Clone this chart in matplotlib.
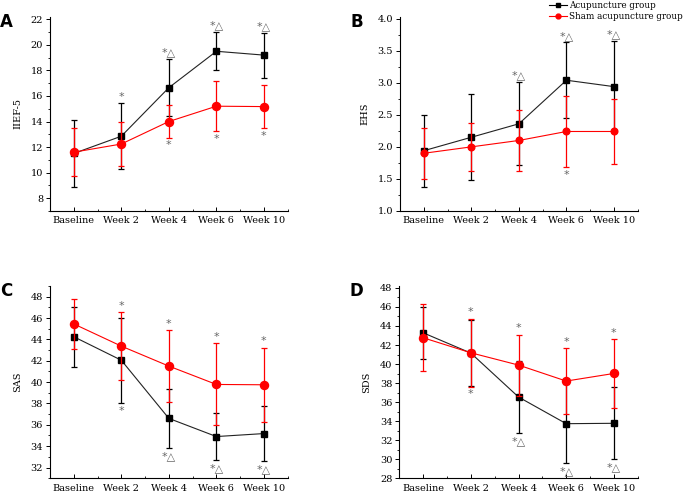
import numpy as np
import matplotlib
matplotlib.use("Agg")
from matplotlib import pyplot as plt
from matplotlib.ticker import MultipleLocator, FormatStrFormatter
from matplotlib.lines import Line2D

plt.rcParams['font.family'] = ['DejaVu Serif', 'DejaVu Sans']

weeks = ["Baseline", "Week 2", "Week 4", "Week 6", "Week 10"]

# IIEF-5
iief_acu = [11.5, 12.85, 16.65, 19.5, 19.2]
iief_acu_sd = [2.65, 2.6, 2.25, 1.5, 1.77]
iief_sham = [11.6, 12.24, 14.0, 15.2, 15.17]
iief_sham_sd = [1.86, 1.72, 1.26, 1.98, 1.68]

# EHS
ehs_acu = [1.94, 2.15, 2.36, 3.04, 2.94]
ehs_acu_sd = [0.56, 0.67, 0.65, 0.59, 0.71]
ehs_sham = [1.90, 2.00, 2.10, 2.24, 2.24]
ehs_sham_sd = [0.40, 0.375, 0.48, 0.56, 0.50]

# SAS
sas_acu = [44.25, 42.05, 36.6, 34.9, 35.18]
sas_acu_sd = [2.8, 4.0, 2.8, 2.2, 2.57]
sas_sham = [45.45, 43.37, 41.5, 39.78, 39.75]
sas_sham_sd = [2.35, 3.16, 3.37, 3.84, 3.46]

# SDS
sds_acu = [43.28, 41.15, 36.53, 33.73, 33.77]
sds_acu_sd = [2.7, 3.5, 3.83, 4.15, 3.78]
sds_sham = [42.76, 41.18, 39.89, 38.21, 39.01]
sds_sham_sd = [3.5, 3.6, 3.2, 3.45, 3.58]

# significance marks
iief_acu_marks = ["", "*", "*\u25b3", "*\u25b3", "*\u25b3"]
iief_sham_marks = ["", "", "*", "*", "*"]
ehs_acu_marks = ["", "", "*\u25b3", "*\u25b3", "*\u25b3"]
ehs_sham_marks = ["", "", "", "*", ""]
sas_acu_marks = ["", "*", "*\u25b3", "*\u25b3", "*\u25b3"]
sas_sham_marks = ["", "*", "*", "*", "*"]
sds_acu_marks = ["", "*", "*\u25b3", "*\u25b3", "*\u25b3"]
sds_sham_marks = ["", "*", "*", "*", "*"]

acu_color = "black"
sham_color = "#ff0000"
mark_color = "#666666"


def put_marks(ax, x, means, sds, marks, above):
    for i, m in enumerate(marks):
        if not m:
            continue
        if above:
            ax.annotate(m, xy=(x[i], means[i] + sds[i]), xytext=(0, 1),
                        textcoords="offset points", ha="center", va="bottom",
                        fontsize=8, color=mark_color, family="DejaVu Sans")
        else:
            ax.annotate(m, xy=(x[i], means[i] - sds[i]), xytext=(0, -2),
                        textcoords="offset points", ha="center", va="top",
                        fontsize=8, color=mark_color, family="DejaVu Sans")


def panel(fig, rect, letter, ylabel, acu, acu_sd, sham, sham_sd,
          acu_marks, sham_marks, acu_above, ylim, major, minor, fmt, msize):
    ax = fig.add_axes(rect)
    x = np.arange(len(weeks))
    ax.errorbar(x, acu, yerr=acu_sd, color="#222222", ecolor=acu_color,
                marker="s", markersize=msize, markerfacecolor=acu_color,
                markeredgecolor=acu_color, lw=0.8, elinewidth=0.9,
                capsize=2.5, capthick=0.9, zorder=2)
    ax.errorbar(x, sham, yerr=sham_sd, color=sham_color, ecolor=sham_color,
                marker="o", markersize=msize + 0.8, markerfacecolor=sham_color,
                markeredgecolor=sham_color, lw=0.8, elinewidth=0.9,
                capsize=2.5, capthick=0.9, zorder=3)
    put_marks(ax, x, acu, acu_sd, acu_marks, acu_above)
    put_marks(ax, x, sham, sham_sd, sham_marks, not acu_above)

    ax.set_xlim(-0.5, 4.5)
    ax.set_ylim(*ylim)
    ax.set_xticks(x)
    ax.set_xticklabels(weeks, fontsize=7)
    ax.xaxis.set_minor_locator(MultipleLocator(0.5))
    ax.yaxis.set_major_locator(MultipleLocator(major))
    ax.yaxis.set_minor_locator(MultipleLocator(minor))
    ax.yaxis.set_major_formatter(FormatStrFormatter(fmt))
    ax.tick_params(axis="y", which="major", direction="out", length=3,
                   width=0.7, labelsize=7, pad=2)
    ax.tick_params(axis="y", which="minor", direction="out", length=1.5,
                   width=0.6)
    ax.tick_params(axis="x", which="major", direction="in", length=3,
                   width=0.7, pad=4)
    ax.tick_params(axis="x", which="minor", direction="in", length=1.5,
                   width=0.6)
    for s in ["top", "right"]:
        ax.spines[s].set_visible(False)
    for s in ["left", "bottom"]:
        ax.spines[s].set_linewidth(0.8)
    ax.set_ylabel(ylabel, fontsize=7, labelpad=6)
    fig.text(rect[0] - 0.073, rect[1] + rect[3] - 0.01, letter,
             fontsize=12, fontweight="bold", family="DejaVu Sans",
             ha="left", va="center")
    return ax


fig = plt.figure(figsize=(6.85, 4.94), dpi=100)

panel(fig, [0.073, 0.573, 0.347, 0.393], "A", "IIEF-5",
      iief_acu, iief_acu_sd, iief_sham, iief_sham_sd,
      iief_acu_marks, iief_sham_marks, True, (7, 22.2), 2, 1, "%d", 5)
panel(fig, [0.584, 0.573, 0.347, 0.393], "B", "EHS",
      ehs_acu, ehs_acu_sd, ehs_sham, ehs_sham_sd,
      ehs_acu_marks, ehs_sham_marks, True, (1.0, 4.03), 0.5, 0.25, "%.1f", 4)
panel(fig, [0.073, 0.032, 0.347, 0.389], "C", "SAS",
      sas_acu, sas_acu_sd, sas_sham, sas_sham_sd,
      sas_acu_marks, sas_sham_marks, False, (31, 49), 2, 1, "%d", 5)
panel(fig, [0.583, 0.032, 0.348, 0.389], "D", "SDS",
      sds_acu, sds_acu_sd, sds_sham, sds_sham_sd,
      sds_acu_marks, sds_sham_marks, False, (28, 48.2), 2, 1, "%d", 5)

handles = [
    Line2D([], [], color=acu_color, marker="s", markersize=3, lw=0.8),
    Line2D([], [], color=sham_color, marker="o", markersize=3.5, lw=0.8),
]
fig.legend(handles, ["Acupuncture group", "Sham acupuncture group"],
           loc="upper left", bbox_to_anchor=(0.794, 1.008), frameon=False,
           fontsize=6.3, handlelength=2.0, handletextpad=0.3,
           labelspacing=0.2, borderpad=0.1)

plt.savefig("out.png", dpi=100)
